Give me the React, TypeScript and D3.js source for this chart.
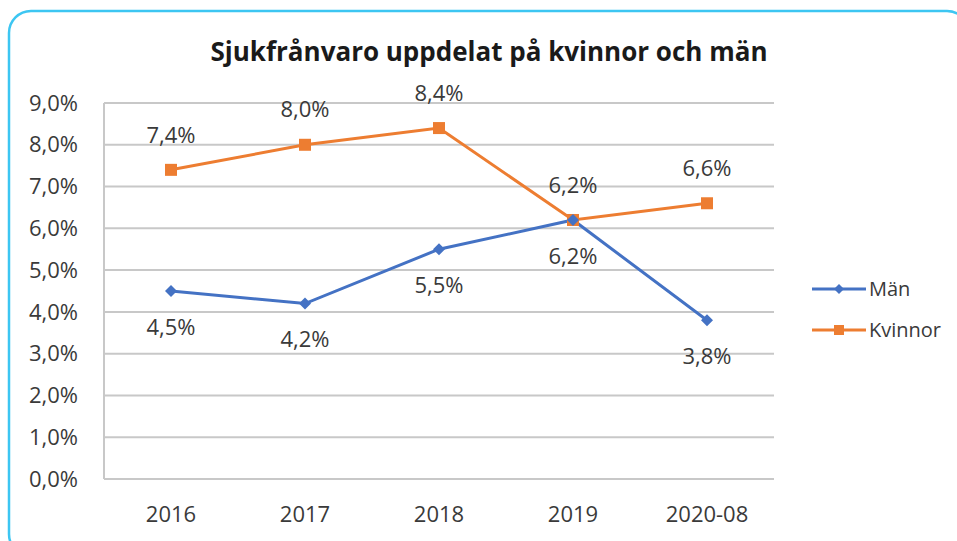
import React from "react";
import * as d3 from "d3";

const categories = ["2016", "2017", "2018", "2019", "2020-08"];
const manValues = [4.5, 4.2, 5.5, 6.2, 3.8];
const kvinnorValues = [7.4, 8.0, 8.4, 6.2, 6.6];
const yTicks = [0, 1, 2, 3, 4, 5, 6, 7, 8, 9];
const seriesNames = ["Män", "Kvinnor"];
const title = "Sjukfrånvaro uppdelat på kvinnor och män";

const W = 957;
const H = 541;
const plot = { left: 104, right: 774, top: 103, bottom: 479 };
const fontFam = "'Open Sans', 'Noto Sans', sans-serif";
const fmt = (v: number) => v.toFixed(1).replace(".", ",") + "%";

export default function App() {
  const x = d3.scaleBand<string>().domain(categories).range([plot.left, plot.right]);
  const y = d3.scaleLinear().domain([0, 9]).range([plot.bottom, plot.top]);
  const cx = (c: string) => (x(c) as number) + x.bandwidth() / 2;
  const line = d3
    .line<number>()
    .x((_, i) => cx(categories[i]))
    .y((d) => y(d));

  const blue = "#4472C4";
  const orange = "#ED7D31";
  const textCol = "#3a3a3a";

  const diamond = (px: number, py: number, s: number) =>
    `M${px},${py - s} L${px + s},${py} L${px},${py + s} L${px - s},${py} Z`;

  return (
    <svg
      width={W}
      height={H}
      style={{ position: "absolute", left: 0, top: 0, display: "block", background: "#fff" }}
    >
      <rect x={9} y={11} width={960} height={545} rx={22} ry={22} fill="#fff" stroke="#3DC6F2" strokeWidth={2.5} />
      <text x={489} y={61} textAnchor="middle" fontFamily={fontFam} fontWeight={700} fontSize={26} fill="#1a1a1a">
        {title}
      </text>
      {yTicks.map((t) => (
        <g key={t}>
          <line x1={plot.left} x2={plot.right} y1={y(t)} y2={y(t)} stroke="#C8C8C8" strokeWidth={2} />
          <text
            x={78}
            y={y(t)}
            dy="0.35em"
            textAnchor="end"
            fontFamily={fontFam}
            fontSize={22}
            fill={textCol}
          >
            {fmt(t)}
          </text>
        </g>
      ))}
      <line x1={plot.left} x2={plot.left} y1={plot.top} y2={plot.bottom} stroke="#C8C8C8" strokeWidth={2} />
      {categories.map((c) => (
        <text key={c} x={cx(c)} y={522} textAnchor="middle" fontFamily={fontFam} fontSize={22} fill={textCol}>
          {c}
        </text>
      ))}
      <path d={line(kvinnorValues) || ""} fill="none" stroke={orange} strokeWidth={3} />
      <path d={line(manValues) || ""} fill="none" stroke={blue} strokeWidth={3} />
      {kvinnorValues.map((v, i) => (
        <rect key={"k" + i} x={cx(categories[i]) - 6} y={y(v) - 6} width={12} height={12} fill={orange} />
      ))}
      {manValues.map((v, i) => (
        <path key={"m" + i} d={diamond(cx(categories[i]), y(v), 6)} fill={blue} />
      ))}
      {kvinnorValues.map((v, i) => (
        <text
          key={"kl" + i}
          x={cx(categories[i])}
          y={y(v) - 35}
          dy="0.35em"
          textAnchor="middle"
          fontFamily={fontFam}
          fontSize={22}
          fill={textCol}
        >
          {fmt(v)}
        </text>
      ))}
      {manValues.map((v, i) => (
        <text
          key={"ml" + i}
          x={cx(categories[i])}
          y={y(v) + 36}
          dy="0.35em"
          textAnchor="middle"
          fontFamily={fontFam}
          fontSize={22}
          fill={textCol}
        >
          {fmt(v)}
        </text>
      ))}
      {seriesNames.map((n, i) => {
        const ly = 289 + i * 41;
        const col = i === 0 ? blue : orange;
        return (
          <g key={n}>
            <line x1={812} x2={866} y1={ly} y2={ly} stroke={col} strokeWidth={3} />
            {i === 0 ? (
              <path d={diamond(839, ly, 5)} fill={col} />
            ) : (
              <rect x={834} y={ly - 5} width={10} height={10} fill={col} />
            )}
            <text x={869} y={ly} dy="0.35em" fontFamily={fontFam} fontSize={20} fill={textCol}>
              {n}
            </text>
          </g>
        );
      })}
    </svg>
  );
}
